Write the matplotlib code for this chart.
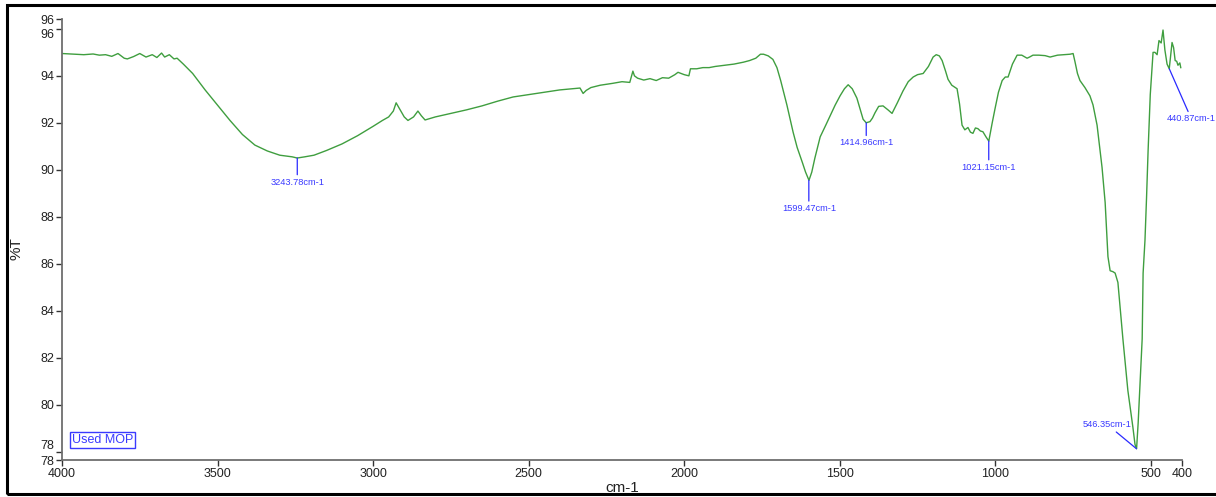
import matplotlib
matplotlib.use("Agg")
import matplotlib.pyplot as plt
import matplotlib.transforms as mtrans
from matplotlib.patches import Rectangle

plt.rcParams['font.family'] = ['Liberation Sans', 'DejaVu Sans']

# ---- data ----
wavenumber = [4000, 3960, 3930, 3900, 3880, 3860, 3840, 3820, 3800, 3790, 3770, 3750, 3730, 3710,
              3695, 3680, 3670, 3655, 3640, 3630, 3610, 3580, 3540, 3500, 3460, 3420, 3380, 3340,
              3300, 3260, 3244, 3220, 3190, 3150, 3100, 3050, 3000, 2970, 2950, 2935, 2926, 2915,
              2900, 2888, 2870, 2856, 2845, 2833, 2800, 2750, 2700, 2650, 2600, 2550, 2500, 2450,
              2400, 2360, 2335, 2325, 2315, 2300, 2270, 2230, 2200, 2175, 2165, 2160, 2150, 2130,
              2110, 2090, 2070, 2050, 2030, 2020, 2000, 1985, 1980, 1960, 1940, 1920, 1900, 1870,
              1840, 1810, 1790, 1770, 1755, 1745, 1730, 1715, 1702, 1690, 1670, 1650, 1637, 1620,
              1610, 1599, 1590, 1580, 1563, 1545, 1531, 1515, 1499, 1485, 1473, 1460, 1445, 1435,
              1425, 1415, 1403, 1395, 1387, 1375, 1361, 1345, 1332, 1315, 1297, 1280, 1264, 1250,
              1232, 1215, 1200, 1190, 1180, 1171, 1160, 1152, 1140, 1123, 1115, 1107, 1098, 1088,
              1080, 1072, 1064, 1056, 1048, 1040, 1030, 1021, 1010, 1001, 990, 978, 968, 959, 945,
              930, 915, 898, 890, 879, 860, 840, 824, 800, 780, 760, 750, 744, 736, 728, 712, 696,
              686, 673, 665, 657, 647, 638, 631, 622, 615, 606, 598, 590, 574, 558, 551, 546, 541,
              535, 528, 525, 519, 514, 509, 502, 496, 493, 487, 480, 474, 467, 461, 455, 448, 441,
              436, 432, 427, 422, 417, 413, 407, 404]
transmittance = [94.95, 94.92, 94.90, 94.93, 94.88, 94.90, 94.83, 94.95, 94.75, 94.72, 94.82, 94.95,
                 94.80, 94.90, 94.78, 94.97, 94.80, 94.90, 94.72, 94.75, 94.50, 94.10, 93.40, 92.75,
                 92.10, 91.50, 91.05, 90.80, 90.62, 90.55, 90.50, 90.55, 90.62, 90.82, 91.10, 91.45,
                 91.85, 92.10, 92.25, 92.50, 92.85, 92.60, 92.25, 92.10, 92.25, 92.50, 92.30, 92.12,
                 92.25, 92.40, 92.55, 92.72, 92.92, 93.10, 93.20, 93.30, 93.40, 93.45, 93.48, 93.25,
                 93.38, 93.50, 93.60, 93.68, 93.75, 93.72, 94.20, 94.00, 93.90, 93.82, 93.88, 93.80,
                 93.92, 93.90, 94.05, 94.15, 94.05, 94.00, 94.30, 94.30, 94.35, 94.35, 94.40, 94.45,
                 94.50, 94.58, 94.65, 94.75, 94.92, 94.92, 94.85, 94.70, 94.35, 93.80, 92.76, 91.60,
                 90.95, 90.30, 89.90, 89.55, 89.90, 90.50, 91.40, 91.90, 92.30, 92.75, 93.15, 93.45,
                 93.62, 93.45, 93.05, 92.60, 92.15, 92.00, 92.05, 92.20, 92.42, 92.70, 92.72, 92.55,
                 92.40, 92.85, 93.35, 93.75, 93.95, 94.05, 94.10, 94.40, 94.80, 94.90, 94.85, 94.65,
                 94.20, 93.85, 93.60, 93.45, 92.80, 91.90, 91.70, 91.80, 91.60, 91.55, 91.78, 91.75,
                 91.65, 91.62, 91.40, 91.22, 92.00, 92.60, 93.30, 93.80, 93.95, 93.95, 94.50, 94.88,
                 94.88, 94.75, 94.80, 94.88, 94.88, 94.86, 94.80, 94.88, 94.90, 94.92, 94.95, 94.60,
                 94.10, 93.80, 93.50, 93.15, 92.76, 91.90, 91.00, 90.10, 88.60, 86.30, 85.70, 85.66,
                 85.60, 85.20, 84.00, 82.80, 80.60, 79.05, 78.30, 78.12, 79.20, 80.90, 82.80, 85.60,
                 87.00, 88.80, 90.80, 93.20, 94.40, 95.00, 95.00, 94.90, 95.50, 95.40, 95.95, 95.10,
                 94.50, 94.30, 94.90, 95.42, 95.20, 94.65, 94.62, 94.45, 94.55, 94.35]

peak_wn = [3243.78, 1599.47, 1414.96, 1021.15, 546.35, 440.87]
peak_t = [90.50, 89.55, 92.00, 91.22, 78.12, 94.30]
peak_labels = ["3243.78cm-1", "1599.47cm-1", "1414.96cm-1", "1021.15cm-1", "546.35cm-1", "440.87cm-1"]
label_offsets_px = [(0, -24), (0, -28), (0, -20), (0, -26), (-29, 24), (22, -50)]

x_ticks = [4000, 3500, 3000, 2500, 2000, 1500, 1000, 500, 400]
y_ticks = [78, 80, 82, 84, 86, 88, 90, 92, 94, 96]
y_limits = (77.64, 96.42)
x_limits = (4000, 400)

# ---- figure ----
W, H = 1216, 497
fig = plt.figure(figsize=(W / 100, H / 100), dpi=100)
# outer frame (its right side lies off the canvas, as in the reference)
fig.patches.append(Rectangle((7 / W, 3 / H), 1215 / W, 489 / H, transform=fig.transFigure,
                             fill=False, edgecolor='black', linewidth=2.2))

ax = fig.add_axes([62 / W, 37 / H, (1182 - 62) / W, (460 - 19) / H])
ax.plot(wavenumber, transmittance, color='#3f9e3f', linewidth=1.0)
ax.set_xlim(*x_limits)
ax.set_ylim(*y_limits)

spine_col = '#6e6e6e'
for s in ['top', 'right']:
    ax.spines[s].set_visible(False)
for s in ['left', 'bottom']:
    ax.spines[s].set_color(spine_col)
    ax.spines[s].set_linewidth(1.3)

yt = [y_limits[0]] + y_ticks + [y_limits[1]]
ylab = ["78"] + [str(v) for v in y_ticks] + ["96"]
ax.set_yticks(yt)
ax.set_yticklabels(ylab)
ax.set_xticks(x_ticks)
ax.set_xticklabels([str(v) for v in x_ticks])
ax.tick_params(axis='both', direction='out', length=4, width=1, color='#333333',
               labelsize=9, labelcolor='#222222', pad=1.5)

# nudge the crowded end labels apart as in the reference
labels = ax.get_yticklabels()
labels[1].set_transform(labels[1].get_transform() +
                        mtrans.ScaledTranslation(0, 7 / 100, fig.dpi_scale_trans))
labels[-2].set_transform(labels[-2].get_transform() +
                         mtrans.ScaledTranslation(0, -5 / 100, fig.dpi_scale_trans))

ax.set_xlabel("cm-1", fontsize=11, color='#222222', labelpad=1)
ax.set_ylabel("%T", fontsize=11, color='#222222')
ax.yaxis.set_label_coords(-0.034, 0.48)

for wn, t, lab, (dx, dy) in zip(peak_wn, peak_t, peak_labels, label_offsets_px):
    ax.annotate(lab, xy=(wn, t), xytext=(dx * 0.72, dy * 0.72), textcoords='offset points',
                ha='center', va='center', fontsize=6.7, color='#3a3aff',
                arrowprops=dict(arrowstyle='-', color='#2a2aff', lw=0.9, shrinkA=0, shrinkB=0),
                annotation_clip=False)

ax.text(72 / W, (497 - 440) / H, "Used MOP", transform=fig.transFigure, fontsize=9,
        color='#3a3aff', ha='left', va='center',
        bbox=dict(boxstyle='square,pad=0.15', facecolor='white', edgecolor='#3a3aff', linewidth=1))

fig.savefig("out.png", dpi=100)
